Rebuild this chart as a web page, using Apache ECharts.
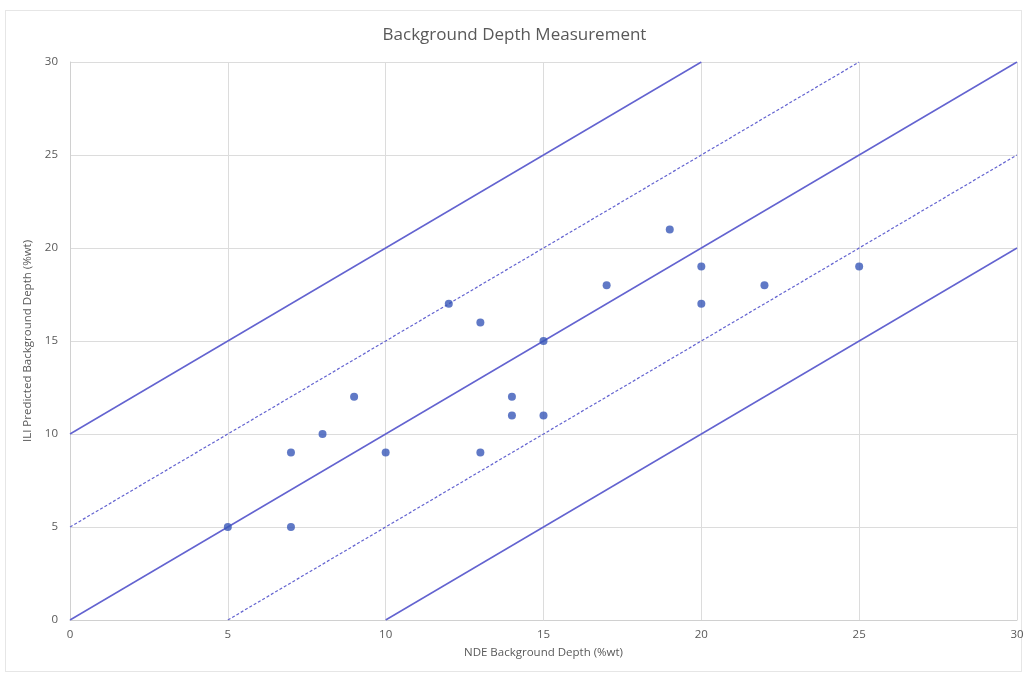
<!DOCTYPE html>
<html>
<head>
<meta charset="utf-8">
<script src="https://cdn.jsdelivr.net/npm/echarts@6/dist/echarts.min.js"></script>
<style>
  html, body { margin: 0; padding: 0; background: #fff; }
  #frame { position: absolute; left: 5px; top: 10px; width: 1015px; height: 660px; border: 1px solid #e6e6e6; }
  #chart { position: absolute; left: 0; top: 0; width: 1029px; height: 679px; }
</style>
</head>
<body>
<div id="frame"></div>
<div id="chart"></div>
<script>
// NDE vs ILI measurements
const ndeDepth = [5, 7, 7, 8, 9, 10, 12, 13, 13, 14, 14, 15, 15, 17, 19, 20, 20, 22, 25];
const iliDepth = [5, 9, 5, 10, 12, 9, 17, 16, 9, 12, 11, 15, 11, 18, 21, 19, 17, 18, 19];

// tolerance band lines (offset from y = x), endpoints inside the 0-30 box
const bandOffsets = [10, 5, 0, -5, -10];
const bandDashed = [false, true, false, true, false];

const axisTicks = [0, 5, 10, 15, 20, 25, 30];

const lineColor = "#6363d0";
const dotColor = "#3858b8";
const textColor = "#595959";

function bandSegment(off) {
  const x0 = Math.max(0, -off), x1 = Math.min(30, 30 - off);
  return [[x0, x0 + off], [x1, x1 + off]];
}

const chart = echarts.init(document.getElementById("chart"));

const series = bandOffsets.map(function (off, i) {
  return {
    type: "line",
    data: bandSegment(off),
    symbol: "none",
    silent: true,
    lineStyle: {
      color: lineColor,
      width: bandDashed[i] ? 1.2 : 1.5,
      type: bandDashed[i] ? [3, 2] : "solid",
    },
  };
});

series.push({
  type: "scatter",
  data: ndeDepth.map(function (x, i) { return [x, iliDepth[i]]; }),
  symbolSize: 8,
  itemStyle: { color: dotColor },
  z: 5,
});

chart.setOption({
  animation: false,
  title: {
    text: "Background Depth Measurement",
    left: "center",
    top: 22,
    textStyle: {
      fontFamily: "Open Sans",
      fontSize: 17,
      fontWeight: "normal",
      color: textColor,
    },
  },
  grid: { left: 70, right: 12, top: 62, bottom: 59 },
  xAxis: {
    type: "value",
    min: axisTicks[0],
    max: axisTicks[axisTicks.length - 1],
    interval: 5,
    name: "NDE Background Depth (%wt)",
    nameLocation: "middle",
    nameGap: 27,
    nameTextStyle: { fontFamily: "Open Sans", fontSize: 11.5, color: textColor },
    axisLine: { lineStyle: { color: "#d0d0d0" } },
    axisTick: { show: false },
    axisLabel: { fontFamily: "Open Sans", fontSize: 11.5, color: textColor, margin: 9 },
    splitLine: { show: true, lineStyle: { color: "#dcdcdc" } },
  },
  yAxis: {
    type: "value",
    min: axisTicks[0],
    max: axisTicks[axisTicks.length - 1],
    interval: 5,
    name: "ILI Predicted Background Depth (%wt)",
    nameLocation: "middle",
    nameGap: 33,
    nameTextStyle: { fontFamily: "Open Sans", fontSize: 11.5, color: textColor },
    axisLine: { show: true, lineStyle: { color: "#d0d0d0" } },
    axisTick: { show: false },
    axisLabel: { fontFamily: "Open Sans", fontSize: 11.5, color: textColor, margin: 12 },
    splitLine: { show: true, lineStyle: { color: "#dcdcdc" } },
  },
  series: series,
});
</script>
</body>
</html>
